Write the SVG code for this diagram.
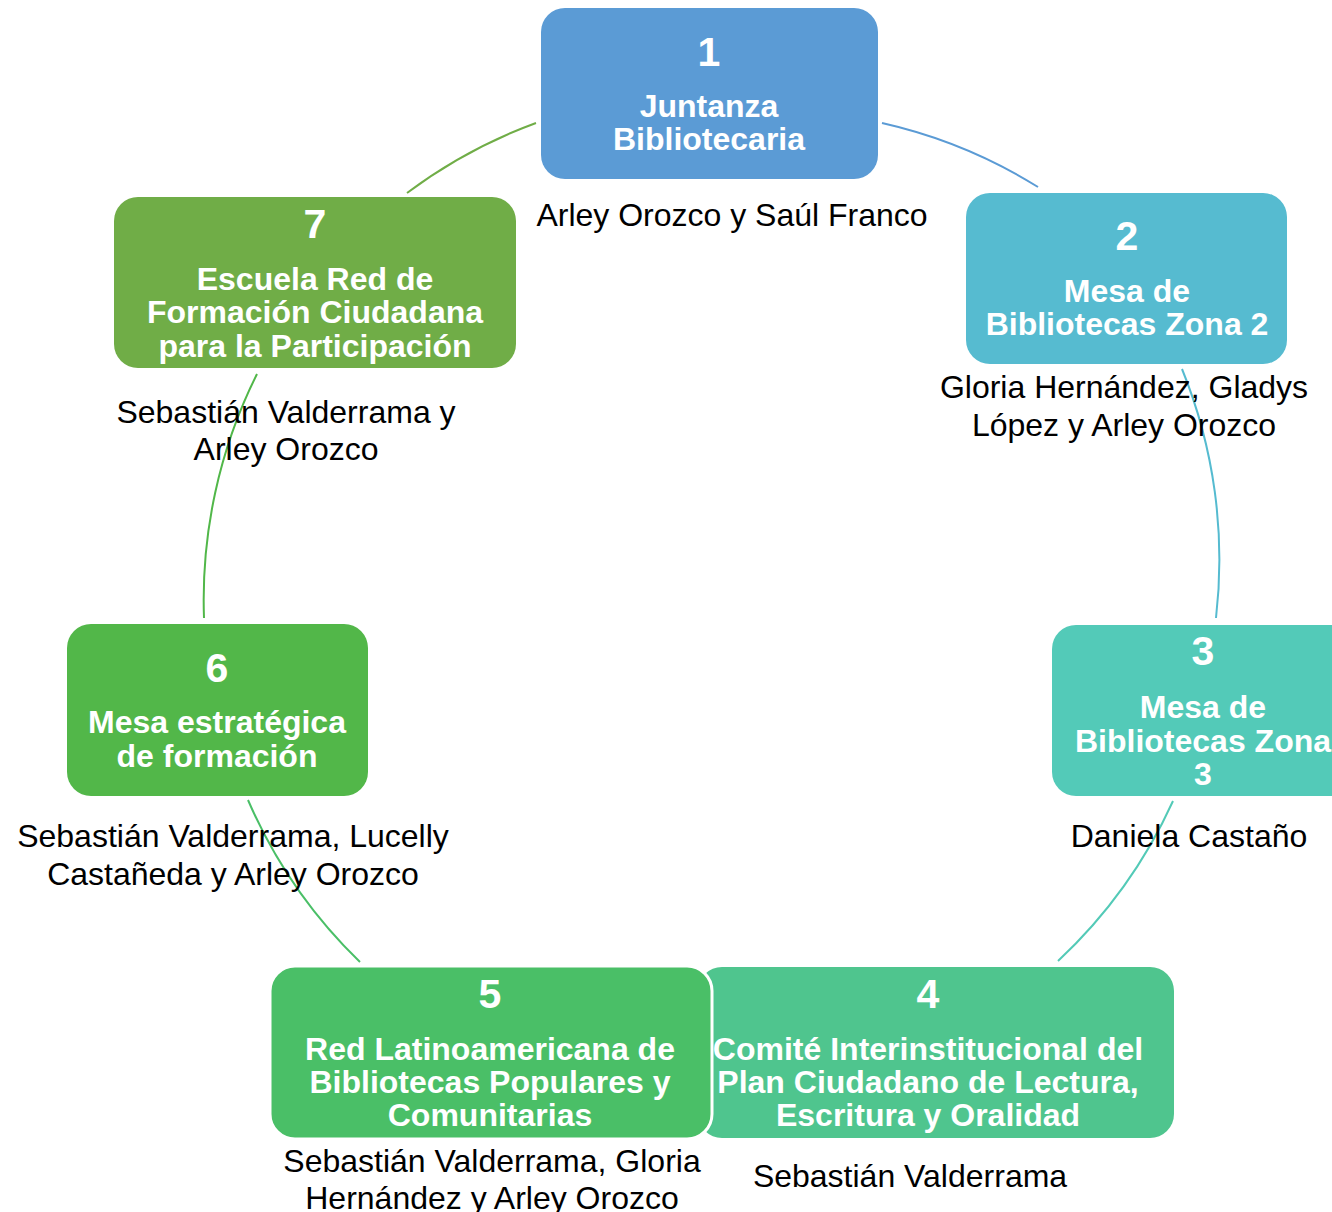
<svg xmlns="http://www.w3.org/2000/svg" width="1332" height="1212" viewBox="0 0 1332 1212">
<style>
.box{stroke:none}
.num{font-family:"Liberation Sans",Arial,sans-serif;font-weight:bold;font-size:41px;fill:#fff;text-anchor:middle}
.ttl{font-family:"Liberation Sans",Arial,sans-serif;font-weight:bold;font-size:32px;fill:#fff;text-anchor:middle}
.body{font-family:"Liberation Sans",Arial,sans-serif;font-size:32px;fill:#000;text-anchor:middle}
.arc{fill:none;stroke-width:2}
</style>
<rect width="1332" height="1212" fill="#fff"/>
<g id="connectors">
<path class="arc" stroke="#5B9BD5" d="M882,123 A505,505 0 0 1 1038,187"/>
<path class="arc" stroke="#55BBD0" d="M1182,369 A505,505 0 0 1 1216,618"/>
<path class="arc" stroke="#53CAB7" d="M1173,801 A505,505 0 0 1 1058,961"/>
<path class="arc" stroke="#4ABF67" d="M360,962 A505,505 0 0 1 248,800"/>
<path class="arc" stroke="#51B749" d="M204,618 A505,505 0 0 1 257,374"/>
<path class="arc" stroke="#70AD47" d="M407,193 A505,505 0 0 1 536,123"/>
</g>
<g id="node1">
<rect class="box" x="541" y="8" width="337" height="171" rx="24" fill="#5B9BD5"/>
<text class="num" x="709" y="66">1</text>
<text class="ttl" x="709" y="117">Juntanza</text>
<text class="ttl" x="709" y="150">Bibliotecaria</text>
<text class="body" x="732" y="226">Arley Orozco y Saúl Franco</text>
</g>
<g id="node2">
<rect class="box" x="966" y="193" width="321" height="171" rx="24" fill="#56BBD0"/>
<text class="num" x="1127" y="250">2</text>
<text class="ttl" x="1127" y="302">Mesa de</text>
<text class="ttl" x="1127" y="335">Bibliotecas Zona 2</text>
<text class="body" x="1124" y="398">Gloria Hernández, Gladys</text>
<text class="body" x="1124" y="436">López y Arley Orozco</text>
</g>
<g id="node3">
<rect class="box" x="1052" y="625" width="310" height="171" rx="24" fill="#53CAB8"/>
<text class="num" x="1203" y="665">3</text>
<text class="ttl" x="1203" y="718">Mesa de</text>
<text class="ttl" x="1203" y="751.5">Bibliotecas Zona</text>
<text class="ttl" x="1203" y="785">3</text>
<text class="body" x="1189" y="847">Daniela Castaño</text>
</g>
<g id="node4">
<rect class="box" x="698" y="967" width="476" height="171" rx="24" fill="#4FC58E"/>
<text class="num" x="928" y="1008">4</text>
<text class="ttl" x="928" y="1060">Comité Interinstitucional del</text>
<text class="ttl" x="928" y="1093">Plan Ciudadano de Lectura,</text>
<text class="ttl" x="928" y="1126">Escritura y Oralidad</text>
<text class="body" x="910" y="1187">Sebastián Valderrama</text>
</g>
<g id="node5">
<rect x="270" y="966" width="442" height="173" rx="25" fill="#4ABF67" stroke="#fff" stroke-width="3"/>
<text class="num" x="490" y="1008">5</text>
<text class="ttl" x="490" y="1060">Red Latinoamericana de</text>
<text class="ttl" x="490" y="1093">Bibliotecas Populares y</text>
<text class="ttl" x="490" y="1126">Comunitarias</text>
<text class="body" x="492" y="1172">Sebastián Valderrama, Gloria</text>
<text class="body" x="492" y="1209">Hernández y Arley Orozco</text>
</g>
<g id="node6">
<rect class="box" x="67" y="624" width="301" height="172" rx="24" fill="#52B749"/>
<text class="num" x="217" y="682">6</text>
<text class="ttl" x="217" y="733">Mesa estratégica</text>
<text class="ttl" x="217" y="766.5">de formación</text>
<text class="body" x="233" y="847">Sebastián Valderrama, Lucelly</text>
<text class="body" x="233" y="885">Castañeda y Arley Orozco</text>
</g>
<g id="node7">
<rect class="box" x="114" y="197" width="402" height="171" rx="24" fill="#70AD47"/>
<text class="num" x="315" y="238">7</text>
<text class="ttl" x="315" y="290">Escuela Red de</text>
<text class="ttl" x="315" y="323">Formación Ciudadana</text>
<text class="ttl" x="315" y="357">para la Participación</text>
<text class="body" x="286" y="423">Sebastián Valderrama y</text>
<text class="body" x="286" y="460">Arley Orozco</text>
</g>
</svg>
